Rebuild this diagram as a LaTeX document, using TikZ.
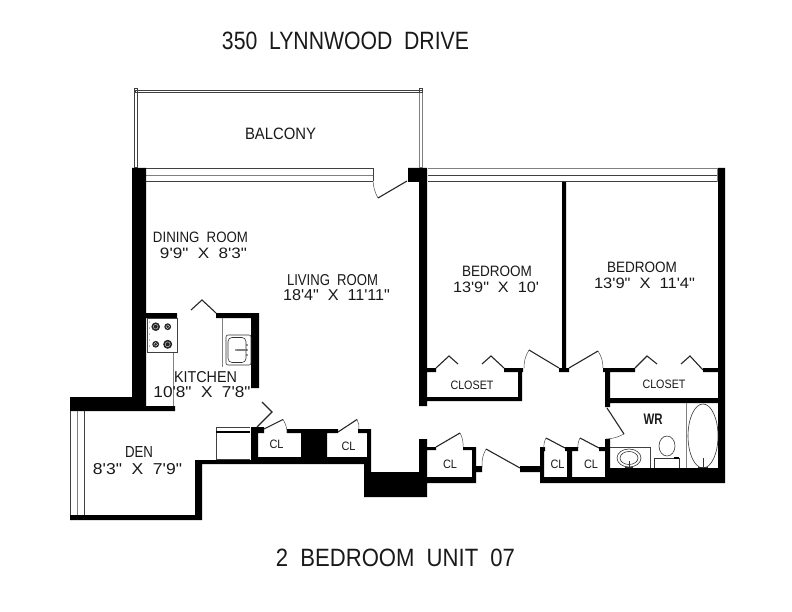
\documentclass[tikz,border=0pt]{standalone}
\usepackage{fontspec}
\newfontfamily\cadfont{Liberation Sans}
\newcommand{\fitt}[3]{\resizebox{#1pt}{#2pt}{#3}}
\newcommand{\gp}{\hspace{0.55em}}
\tikzset{
  wallfill/.style={fill=black},
  doorleaf/.style={draw=black!85,line width=1.1pt,line join=miter},
  doorswing/.style={draw=black!70,line width=0.5pt},
  thinline/.style={draw=black!75,line width=0.7pt},
  greyline/.style={draw=black!50,line width=0.9pt},
  fixture/.style={draw=black!80,line width=0.6pt},
  lab/.style={inner sep=0pt,outer sep=0pt,anchor=center,text=black!90,font=\cadfont}
}
\begin{document}
\begin{tikzpicture}[x=1pt,y=-1pt]
\useasboundingbox (0,0) rectangle (792,612);
% balcony rails
\draw[thinline] (135,90) rectangle (422,92);
\draw[thinline] (134.5,92) rectangle (137,167);
\draw[greyline,line width=0.5pt] (419.5,92) rectangle (422,167);
\draw[thinline] (134,88.5) rectangle (137.5,92);
\draw[thinline] (419,88.5) rectangle (422.5,92);
% windows
\draw[thinline] (146,168.5) -- (373,168.5);
\draw[greyline] (146,175) -- (373,175);
\draw[thinline] (146,181) -- (373,181);
\draw[thinline] (373,168) -- (373,181);
\draw[greyline] (428,168.5) -- (718,168.5);
\draw[thinline] (428,175) -- (718,175);
\draw[thinline] (428,181.5) -- (718,181.5);
\draw[greyline] (717,168) -- (717,182);
\draw[thinline] (70.5,411) -- (70.5,515);
\draw[greyline] (77,411) -- (77,515);
\draw[thinline] (84,411) -- (84,515);
% walls
\fill[wallfill]
 (132,168) rectangle (146,411)
 (70,397) rectangle (146,411)
 (146,406) rectangle (175,411)
 (70,515) rectangle (202,520)
 (195,460) rectangle (202,520)
 (195,460) rectangle (258,464)
 (146,313) rectangle (177,318)
 (216,313) rectangle (259,318)
 (251,313) rectangle (259,388)
 (251,427) rectangle (258,464)
 (251,427) rectangle (264,433)
 (287,429) rectangle (301,433)
 (301,429) rectangle (327,464)
 (327,429) rectangle (338,433)
 (358,429) rectangle (371,433)
 (367,429) rectangle (371,472)
 (258,457) rectangle (371,464)
 (364,464) rectangle (371,472)
 (364,472) rectangle (427,497)
 (419,439) rectangle (427,497)
 (427,477) rectangle (476,483)
 (472,447) rectangle (476,483)
 (427,447) rectangle (436,450)
 (463,447) rectangle (476,450)
 (476,466) rectangle (482,472)
 (520,466) rectangle (544,472)
 (540,447) rectangle (544,483)
 (544,447) rectangle (545,451)
 (565,447) rectangle (578,451)
 (599,447) rectangle (610,451)
 (567,447) rectangle (572,483)
 (605,439) rectangle (610,483)
 (540,477) rectangle (725,483)
 (605,468) rectangle (725,477)
 (718,168) rectangle (725,483)
 (562,182) rectangle (566,372)
 (419,168) rectangle (427,406)
 (408,168) rectangle (427,182)
 (427,368) rectangle (436,372)
 (504,368) rectangle (523,372)
 (518,368) rectangle (522,401)
 (427,397) rectangle (522,401)
 (559,368) rectangle (569,372)
 (603,368) rectangle (635,372)
 (605,368) rectangle (610,407)
 (703,368) rectangle (719,372)
 (610,398) rectangle (719,403);
% doors
\draw[doorleaf] (407,181) -- (378,198);
\draw[doorswing] (373,181) to[bend right=12] (378,198);
\draw[doorleaf] (216,313) -- (202,300) -- (191,310);
\draw[doorleaf] (257,427) -- (272,412) -- (262,402);
\draw[doorleaf] (264,429) -- (283,419.5);
\draw[doorswing] (283,419.5) to[bend left=15] (287,433);
\draw[doorleaf] (338,432) -- (357,419.5);
\draw[doorswing] (357,419.5) to[bend left=15] (359,429);
\draw[doorleaf] (436,447) -- (460,433);
\draw[doorswing] (460,433) to[bend left=15] (463,447);
\draw[doorleaf] (486,449) -- (520,468);
\draw[doorswing] (482,467) to[bend left=15] (486,449);
\draw[doorleaf] (546,438) -- (565,448);
\draw[doorswing] (544,448) to[bend left=15] (546,438);
\draw[doorleaf] (580,438) -- (599,448);
\draw[doorswing] (578,448) to[bend left=15] (580,438);
\draw[doorleaf] (436,368) -- (449,356) -- (458,364);
\draw[doorleaf] (482,364) -- (491,356) -- (504,368);
\draw[doorleaf] (529,350) -- (559,368);
\draw[doorswing] (524,368) to[bend left=15] (529,350);
\draw[doorleaf] (569,368) -- (598,351);
\draw[doorswing] (598,351) to[bend left=15] (603,368);
\draw[doorleaf] (635,368) -- (647,356) -- (657,364);
\draw[doorleaf] (681,364) -- (690,356) -- (703,370);
\draw[doorleaf] (607,408) -- (624,434);
\draw[doorswing] (624,434) to[bend left=12] (606,439);
% kitchen
\draw[thinline,line width=1pt] (147.5,318) rectangle (177,352.5);
\draw[greyline] (173,353) -- (173,406);
\draw[greyline] (222.7,318) -- (222.7,367);
\draw[fixture,rounded corners=2pt] (226,335) rectangle (251,365);
\draw[fixture,rounded corners=4pt] (228,337.5) rectangle (246,362.5);
\draw[fixture,line width=1.2pt,draw=black!50] (237,350) -- (247,350);
\foreach \cx/\cy/\r in {155.7/326.7/4.3,167.7/326.7/3.4,155.7/344.3/3.4,167.7/344.3/4.5}{
  \fill[black!85] (\cx,\cy) circle[radius=\r];
  \draw[white,line width=0.3pt] (\cx,\cy) circle[radius=\r*0.55];
}
\foreach \yy in {322,328,334,340,346}{\fill[black!80] (149.5,\yy) circle[radius=0.5];}
\foreach \yy in {345,350,355}{\fill[black!80] (247,\yy) circle[radius=0.8];}
\fill[black!80] (236,350) circle[radius=0.8];
% appliance
\draw[thinline] (216,459) -- (216,427) -- (250,427);
\draw[thinline] (216,459) -- (250,459);
\draw[black,line width=1.2pt] (216,432) -- (250,432);
% bath
\draw[thinline,line width=0.5pt] (610,447) -- (650,447) -- (650,468);
\draw[fixture] (629,458) ellipse[x radius=12,y radius=9];
\draw[fixture] (629,458) ellipse[x radius=9,y radius=6.5];
\draw[fixture,line width=1pt] (629,461) -- (629,467);
\draw[fixture] (625,467) -- (633,467);
\draw[fixture] (667,446) ellipse[x radius=8,y radius=10];
\draw[fixture] (654.5,468) -- (654.5,458.5) -- (679,458.5) -- (679,468);
\fill[black] (674,457) rectangle (679,459);
\draw[greyline,line width=0.6pt] (686,403) -- (686,468);
\draw[fixture] (703,436) ellipse[x radius=15,y radius=32];
\draw[fixture,line width=1pt] (703,458) -- (703,467);
\draw[fixture,line width=1pt] (698,467) -- (708,467);
% texts
\node[lab] (title) at (345.5,40.5) {\fitt{247}{17.5}{350\gp LYNNWOOD\gp DRIVE}};
\node[lab] (foot) at (395.5,558) {\fitt{239}{17.5}{2\gp BEDROOM\gp UNIT\gp 07}};
\node[lab] (balcony) at (280.5,134) {\fitt{71}{11.5}{BALCONY}};
\node[lab] (din) at (200.5,237) {\fitt{95}{10.5}{DINING\gp ROOM}};
\node[lab] (dindim) at (203.5,253) {\fitt{87}{10.5}{9'9"\gp X\gp 8'3"}};
\node[lab] (liv) at (332.5,280.5) {\fitt{91}{11}{LIVING\gp ROOM}};
\node[lab] (livdim) at (336.5,295.5) {\fitt{107}{11}{18'4"\gp X\gp 11'11"}};
\node[lab] (bed1) at (497,271) {\fitt{70}{10.5}{BEDROOM}};
\node[lab] (bed1dim) at (496,287) {\fitt{86}{10.5}{13'9"\gp X\gp 10'}};
\node[lab] (bed2) at (642,267.5) {\fitt{70}{10.5}{BEDROOM}};
\node[lab] (bed2dim) at (644.5,283) {\fitt{101}{10.5}{13'9"\gp X\gp 11'4"}};
\node[lab] (clo1) at (472,385) {\fitt{43}{8.5}{CLOSET}};
\node[lab] (clo2) at (664,384.5) {\fitt{43}{8.5}{CLOSET}};
\node[lab] (kit) at (205.5,377) {\fitt{63}{11}{KITCHEN}};
\node[lab] (kitdim) at (202,392) {\fitt{97}{11}{10'8"\gp X\gp 7'8"}};
\node[lab] (den) at (139,452) {\fitt{28}{11}{DEN}};
\node[lab] (dendim) at (137.5,469) {\fitt{89}{11}{8'3"\gp X\gp 7'9"}};
\node[lab] (wr) at (653,419) {\fitt{19}{10.5}{\bfseries WR}};
\node[lab] (cl1) at (276.5,444) {\fitt{14}{8.5}{CL}};
\node[lab] (cl2) at (348.5,446) {\fitt{14}{8.5}{CL}};
\node[lab] (cl3) at (450,464) {\fitt{14}{8.5}{CL}};
\node[lab] (cl4) at (557.5,464) {\fitt{14}{8.5}{CL}};
\node[lab] (cl5) at (591,464) {\fitt{14}{8.5}{CL}};
\end{tikzpicture}
\end{document}
